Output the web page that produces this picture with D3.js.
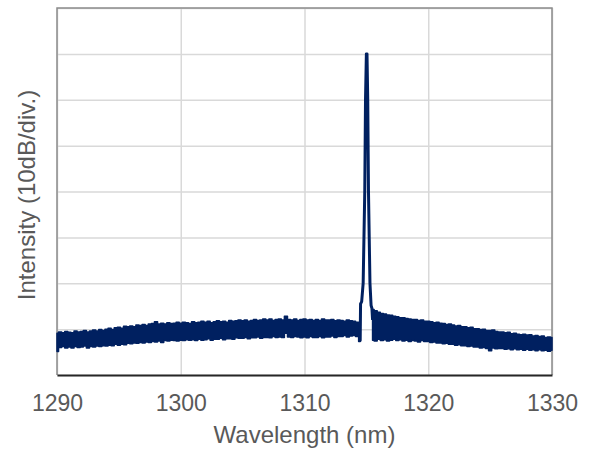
<!DOCTYPE html>
<html>
<head>
<meta charset="utf-8">
<script src="https://cdn.jsdelivr.net/npm/d3@7"></script>
<style>
  body { margin: 0; background: #fff; }
  text { font-family: "Liberation Sans", Arial, sans-serif; fill: #595959; }
</style>
</head>
<body>
<div id="chart"></div>
<script>
// tick values
const xTicks = [1290, 1300, 1310, 1320, 1330];
const yTicks = [-80, -70, -60, -50, -40, -30, -20, -10, 0];

// noise floor band, read every 0.25 nm (null = under the laser line)
const bandWl = [
  1290, 1290.25, 1290.5, 1290.75, 1291, 1291.25, 1291.5, 1291.75, 1292, 1292.25, 1292.5, 1292.75,
  1293, 1293.25, 1293.5, 1293.75, 1294, 1294.25, 1294.5, 1294.75, 1295, 1295.25, 1295.5, 1295.75,
  1296, 1296.25, 1296.5, 1296.75, 1297, 1297.25, 1297.5, 1297.75, 1298, 1298.25, 1298.5, 1298.75,
  1299, 1299.25, 1299.5, 1299.75, 1300, 1300.25, 1300.5, 1300.75, 1301, 1301.25, 1301.5, 1301.75,
  1302, 1302.25, 1302.5, 1302.75, 1303, 1303.25, 1303.5, 1303.75, 1304, 1304.25, 1304.5, 1304.75,
  1305, 1305.25, 1305.5, 1305.75, 1306, 1306.25, 1306.5, 1306.75, 1307, 1307.25, 1307.5, 1307.75,
  1308, 1308.25, 1308.5, 1308.75, 1309, 1309.25, 1309.5, 1309.75, 1310, 1310.25, 1310.5, 1310.75,
  1311, 1311.25, 1311.5, 1311.75, 1312, 1312.25, 1312.5, 1312.75, 1313, 1313.25, 1313.5, 1313.75,
  1314, 1314.25, 1314.5, 1314.75, 1315, 1315.25, 1315.5, 1315.75, 1316, 1316.25, 1316.5, 1316.75,
  1317, 1317.25, 1317.5, 1317.75, 1318, 1318.25, 1318.5, 1318.75, 1319, 1319.25, 1319.5, 1319.75,
  1320, 1320.25, 1320.5, 1320.75, 1321, 1321.25, 1321.5, 1321.75, 1322, 1322.25, 1322.5, 1322.75,
  1323, 1323.25, 1323.5, 1323.75, 1324, 1324.25, 1324.5, 1324.75, 1325, 1325.25, 1325.5, 1325.75,
  1326, 1326.25, 1326.5, 1326.75, 1327, 1327.25, 1327.5, 1327.75, 1328, 1328.25, 1328.5, 1328.75,
  1329, 1329.25, 1329.5, 1329.75, 1330
];
const bandTop = [
  -70.9, -70.6, -70.8, -70.5, -70.7, -70.8, -70.4, -70.6, -70.5, -70.3, -70.6, -70.4,
  -70.2, -70.4, -70.1, -70.3, -70.0, -69.8, -70.1, -69.7, -69.6, -69.8, -69.4, -69.5,
  -69.3, -69.5, -69.1, -69.2, -69.0, -69.2, -68.9, -68.8, -68.4, -68.9, -68.7, -68.9,
  -68.6, -68.8, -68.7, -68.5, -68.7, -68.5, -68.6, -68.8, -68.4, -68.6, -68.5, -68.3,
  -68.5, -68.3, -68.6, -68.4, -68.2, -68.4, -68.3, -68.5, -68.1, -68.3, -68.2, -68.0,
  -68.2, -68.0, -68.3, -68.1, -67.9, -68.1, -68.0, -67.8, -68.0, -67.8, -68.1, -67.9,
  -67.8, -68.0, -67.2, -67.9, -68.0, -67.8, -68.1, -67.9, -67.8, -68.0, -67.9, -68.1,
  -67.9, -68.1, -67.8, -68.0, -68.0, -67.9, -68.2, -68.0, -68.1, -68.3, -68.0, -68.2,
  -68.3, -68.5, -68.7, null, null, null, -65.7, -66.0, -66.3, -66.6, -66.7, -66.9,
  -67.0, -67.2, -67.3, -67.5, -67.5, -67.7, -67.8, -67.9, -67.9, -68.1, -68.0, -68.3,
  -68.3, -68.4, -68.6, -68.5, -68.7, -68.8, -69.0, -68.9, -69.1, -69.3, -69.2, -69.5,
  -69.5, -69.7, -69.6, -69.9, -69.9, -70.1, -70.0, -70.3, -70.3, -70.2, -70.5, -70.6,
  -70.6, -70.8, -70.7, -71.0, -70.9, -71.1, -71.2, -71.1, -71.3, -71.2, -71.5, -71.4,
  -71.6, -71.5, -71.8, -71.7, -71.8
];
const bandBottom = [
  -74.9, -74.0, -73.8, -74.1, -73.9, -74.1, -73.8, -74.0, -73.9, -73.7, -74.1, -73.8,
  -73.9, -73.7, -73.8, -73.6, -73.7, -73.5, -73.6, -73.3, -73.5, -73.3, -73.4, -73.1,
  -73.2, -73.0, -73.1, -72.9, -73.0, -72.8, -72.9, -72.7, -72.8, -72.6, -72.9, -72.5,
  -72.6, -72.4, -72.5, -72.6, -72.4, -72.5, -72.3, -72.4, -72.3, -72.5, -72.2, -72.4,
  -72.3, -72.1, -72.4, -72.2, -72.2, -72.0, -72.3, -72.1, -72.1, -72.2, -71.9, -72.0,
  -72.0, -71.8, -72.1, -71.9, -71.9, -71.7, -72.0, -71.8, -71.8, -71.9, -71.6, -71.8,
  -71.7, -71.8, -70.9, -71.7, -71.8, -71.6, -71.7, -71.9, -71.7, -71.9, -71.6, -71.8,
  -71.8, -71.6, -71.9, -71.7, -71.7, -71.5, -71.8, -71.6, -71.6, -71.4, -71.7, -71.5,
  -71.4, -71.6, -72.7, null, null, null, -72.4, -72.6, -72.2, -72.5, -72.3, -72.6,
  -72.4, -72.2, -72.5, -72.3, -72.6, -72.4, -72.7, -72.5, -72.6, -72.8, -72.5, -72.7,
  -72.7, -72.9, -72.8, -73.0, -73.0, -73.2, -73.1, -73.3, -73.3, -73.5, -73.4, -73.6,
  -73.6, -73.8, -73.7, -73.9, -73.9, -74.1, -74.0, -74.2, -74.7, -74.1, -74.3, -74.2,
  -74.2, -74.4, -74.3, -74.5, -74.3, -74.5, -74.4, -74.6, -74.4, -74.6, -74.5, -74.7,
  -74.5, -74.7, -74.6, -74.8, -74.6
];

// laser line
const peakWl = [1314.45, 1314.5, 1314.53, 1314.62, 1314.74, 1314.87, 1314.93, 1315.0, 1315.05, 1315.11, 1315.17, 1315.29, 1315.38, 1315.45, 1315.5];
const peakDb = [-69.5, -72.5, -64.5, -64.0, -60, -40, -20, -10.0, -10.0, -20, -40, -60, -64.8, -65.5, -68.0];

const W = 592, H = 450;
const margin = { top: 8, right: 40, bottom: 75, left: 57 };
const width = W - margin.left - margin.right;
const height = H - margin.top - margin.bottom;
const lineColor = "#002060";

const svg = d3.select("#chart").append("svg")
    .attr("width", W)
    .attr("height", H);

const g = svg.append("g")
    .attr("transform", `translate(${margin.left},${margin.top})`);

const x = d3.scaleLinear().domain([1290, 1330]).range([0, width]);
const y = d3.scaleLinear().domain([-80, 0]).range([height, 0]);

// gridlines
g.append("g")
    .call(d3.axisLeft(y).tickValues(yTicks).tickSize(-width).tickFormat(""))
    .call(a => a.select(".domain").remove())
    .selectAll("line")
    .attr("stroke", "#d9d9d9")
    .attr("stroke-width", 1.5);

g.append("g")
    .attr("transform", `translate(0,${height})`)
    .call(d3.axisBottom(x).tickValues(xTicks).tickSize(-height).tickFormat(""))
    .call(a => a.select(".domain").remove())
    .selectAll("line")
    .attr("stroke", "#d9d9d9")
    .attr("stroke-width", 1.5);

// frame (left, top, right grey)
g.append("path")
    .attr("d", `M0,${height}V0H${width}V${height}`)
    .attr("fill", "none")
    .attr("stroke", "#8c8c8c")
    .attr("stroke-width", 1.5);

// noise band
const band = bandWl.map((w, i) => ({ w, top: bandTop[i], bot: bandBottom[i] }));
const area = d3.area()
    .defined(d => d.top !== null)
    .x(d => x(d.w))
    .y0(d => y(d.bot))
    .y1(d => y(d.top))
    .curve(d3.curveStep);

g.append("path")
    .datum(band)
    .attr("d", area)
    .attr("fill", lineColor)
    .attr("stroke", lineColor)
    .attr("stroke-width", 1.5)
    .attr("stroke-linejoin", "round");

// peak
const line = d3.line()
    .x(d => x(d[0]))
    .y(d => y(d[1]));

g.append("path")
    .datum(peakWl.map((w, i) => [w, peakDb[i]]))
    .attr("d", line)
    .attr("fill", "none")
    .attr("stroke", lineColor)
    .attr("stroke-width", 3)
    .attr("stroke-linejoin", "round");

// bottom axis
const xAxis = g.append("g")
    .attr("transform", `translate(0,${height})`)
    .call(d3.axisBottom(x).tickValues(xTicks).tickSize(0).tickPadding(0).tickFormat(d3.format("d")));
xAxis.select(".domain")
    .attr("stroke", "#262626")
    .attr("stroke-width", 2);
xAxis.selectAll("text")
    .attr("dy", null)
    .attr("y", 36)
    .style("font-size", "23px")
    .style("fill", "#595959");

// axis titles
svg.append("text")
    .attr("x", margin.left + width / 2)
    .attr("y", 443)
    .attr("text-anchor", "middle")
    .style("font-size", "24px")
    .text("Wavelength (nm)");

svg.append("text")
    .attr("transform", "translate(35,195) rotate(-90)")
    .attr("text-anchor", "middle")
    .style("font-size", "24px")
    .text("Intensity (10dB/div.)");
</script>
</body>
</html>
